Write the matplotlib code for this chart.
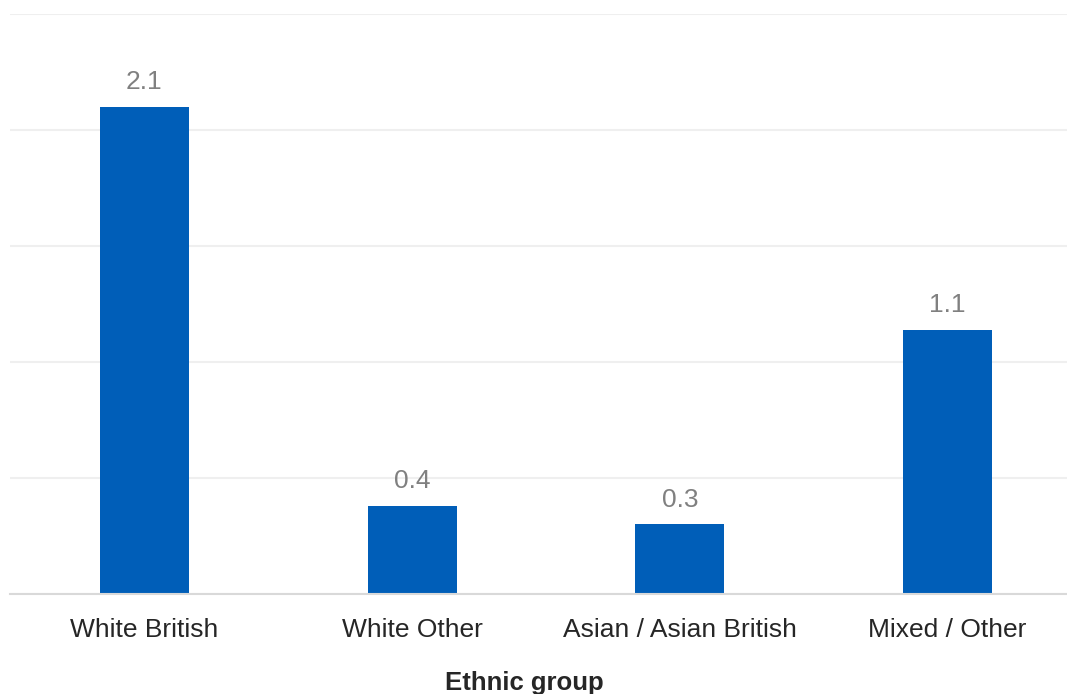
import matplotlib.pyplot as plt

# Data
groups = ['White British', 'White Other', 'Asian / Asian British', 'Mixed / Other']
values = [2.10, 0.38, 0.30, 1.14]
labels = ['2.1', '0.4', '0.3', '1.1']

plt.rcParams['font.family'] = ['Liberation Sans', 'DejaVu Sans']

fig = plt.figure(figsize=(10.67, 6.94), dpi=100)
ax = fig.add_axes([10 / 1067, 1 - 594 / 694, 1 - 10 / 1067, (594 - 14) / 694])

x = range(len(groups))
bars = ax.bar(x, values, width=0.332, color='#005EB8', zorder=3)

for rect, lab in zip(bars, labels):
    ax.annotate(lab, (rect.get_x() + rect.get_width() / 2, rect.get_height()),
                xytext=(0, 9), textcoords='offset points',
                ha='center', va='bottom', fontsize=19, color='#808080')

ax.set_xlim(-0.502, 3.446)
ax.set_ylim(0, 2.5)
ax.set_yticks([0, 0.5, 1.0, 1.5, 2.0, 2.5])
ax.yaxis.grid(True, color='#efefef', linewidth=1.5, zorder=0)
ax.tick_params(axis='y', left=False, labelleft=False)
ax.tick_params(axis='x', bottom=False, labelsize=19, labelcolor='#262626', pad=14)
ax.set_xticks(list(x))
ax.set_xticklabels(groups)

for side in ['top', 'right', 'left']:
    ax.spines[side].set_visible(False)
ax.spines['bottom'].set_color('#d9d9d9')
ax.spines['bottom'].set_linewidth(1.5)
ax.spines['bottom'].set_zorder(4)

ax.set_xlabel('Ethnic group', fontsize=18.5, fontweight='bold', color='#262626')
ax.xaxis.set_label_coords(0.487, -0.132)

plt.savefig('out.png', dpi=100)
